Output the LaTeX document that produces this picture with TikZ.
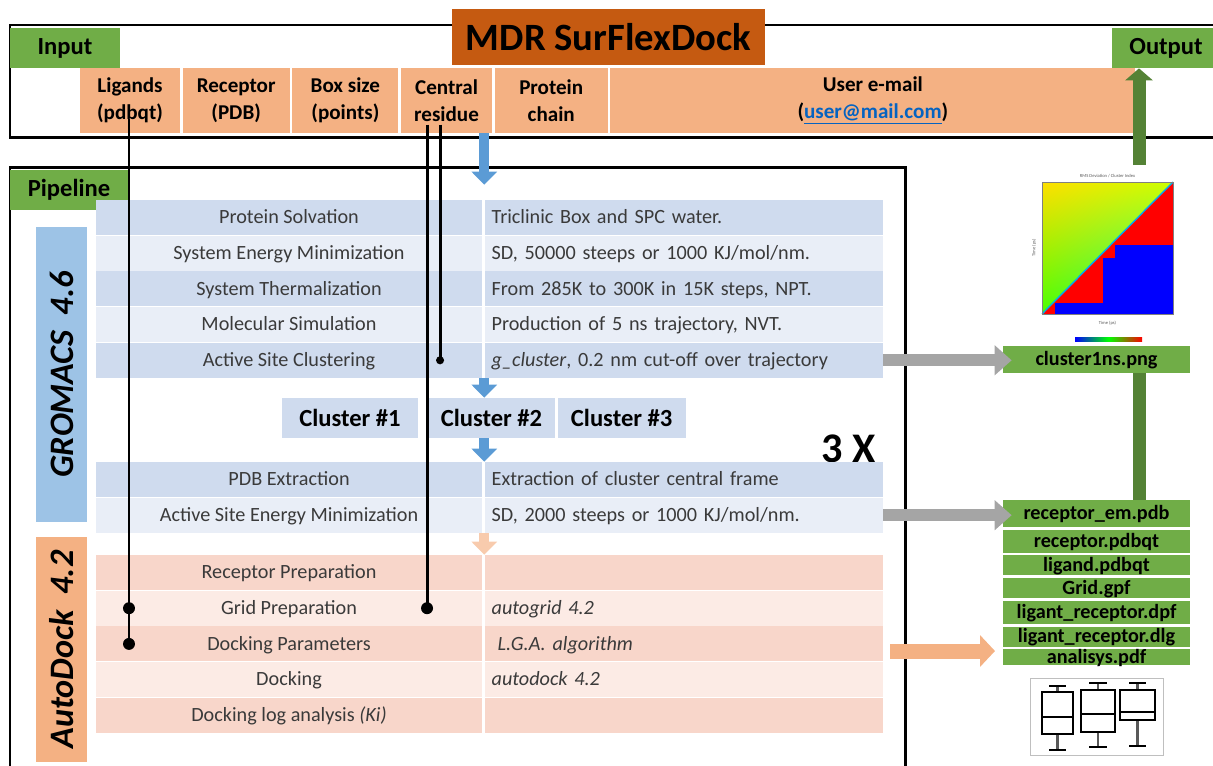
\documentclass[tikz,border=0pt]{standalone}
\usepackage{fontspec}
\setmainfont{Carlito}
\usetikzlibrary{arrows.meta,positioning,shadings}

\definecolor{titlebrown}{HTML}{C55A11}
\definecolor{boxgreen}{HTML}{70AD47}
\definecolor{darkgreen}{HTML}{548235}
\definecolor{peach}{HTML}{F4B183}
\definecolor{gromblue}{HTML}{9DC3E6}
\definecolor{rowblueA}{HTML}{CFDBEE}
\definecolor{rowblueB}{HTML}{E9EEF7}
\definecolor{rowpeachA}{HTML}{F8D6CA}
\definecolor{rowpeachB}{HTML}{FCEBE5}
\definecolor{flowblue}{HTML}{5B9BD5}
\definecolor{flowpeach}{HTML}{F8CBAD}
\definecolor{arrowgray}{HTML}{A5A5A5}
\definecolor{linkblue}{HTML}{0563C1}
\definecolor{rowtext}{HTML}{3A3A3A}

\newcommand{\fs}[1]{\fontsize{#1}{#1}\selectfont}

\tikzset{
  frame/.style={line width=1.7pt},
  tag/.style={fill=boxgreen, inner sep=0pt, minimum height=0.8cm, font=\bfseries\fs{14}},
  titlebox/.style={fill=titlebrown, inner sep=0pt, minimum width=6.26cm, minimum height=1.12cm, font=\bfseries\fs{22}},
  incell/.style={fill=peach, inner sep=0pt, minimum height=1.3cm, align=center, font=\bfseries\fontsize{12}{15.5}\selectfont},
  sidebar/.style={rotate=90, inner sep=0pt, minimum height=1.02cm, font=\bfseries\itshape\fs{19.5}},
  lcell/.style={inner sep=0pt, minimum width=7.72cm, minimum height=0.7cm, text height=8.5pt, text depth=1.5pt, text=rowtext, font=\fs{11.5}},
  rcell/.style={inner ysep=0pt, inner xsep=0.14cm, text width=7.68cm, minimum height=0.7cm, text height=8.5pt, text depth=1.5pt, align=left, text=rowtext, font=\fs{11.5}},
  clbox/.style={fill=rowblueA, inner sep=0pt, minimum height=0.8cm, font=\bfseries\fs{14}},
  filebox/.style={fill=boxgreen, inner sep=0pt, minimum width=3.74cm, text height=8pt, text depth=1pt, font=\bfseries\fs{11.5}},
  wire/.style={line width=1.7pt},
  flow/.style={line width=0.2cm, flowblue, -{Triangle[width=0.5cm, length=0.26cm]}},
  flowp/.style={line width=0.2cm, flowpeach, -{Triangle[width=0.5cm, length=0.26cm]}},
  grayarrow/.style={line width=0.24cm, arrowgray, -{Triangle[width=0.58cm, length=0.34cm]}},
  peacharrow/.style={line width=0.3cm, peach, -{Triangle[width=0.62cm, length=0.3cm]}},
  greenup/.style={line width=0.26cm, darkgreen, -{Triangle[width=0.54cm, length=0.24cm]}},
  greenbar/.style={line width=0.26cm, darkgreen},
  tinytext/.style={inner sep=0pt, font=\fs{2.6}, text=gray!70!black}
}

\begin{document}
\begin{tikzpicture}[x=0.02cm, y=-0.02cm]
\useasboundingbox (0,0) rectangle (1213,765);
\clip (0,0) rectangle (1213,765);

%--- Input frame ---
\draw[frame] (1230,25) -- (10,25) -- (10,137) -- (1230,137);
\node[tag, minimum width=2.2cm] (intag) at (65,48) {Input};
\node[tag, minimum width=2.16cm] (outtag) at (1166,48) {Output};
\node[titlebox] (title) at (608.5,37) {MDR SurFlexDock};

% Input fields
\node[incell, minimum width=2cm] (lig) at (130,100.5) {Ligands\\(pdbqt)};
\node[incell, minimum width=2.14cm, right=0.04cm of lig] (rec) {Receptor\\(PDB)};
\node[incell, minimum width=2.12cm, right=0.04cm of rec] (boxsz) {Box size\\(points)};
\node[incell, minimum width=1.82cm, right=0.04cm of boxsz] (cenres) {Central\\residue};
\node[incell, minimum width=2.26cm, right=0.04cm of cenres] (prot) {Protein\\chain};
\node[incell, minimum width=10.5cm, right=0.04cm of prot] (email) {User e-mail\\(\textcolor{linkblue}{\underline{user@mail.com}})};

%--- Pipeline frame ---
\draw[frame] (10,780) -- (10,167) -- (905,167) -- (905,780);
\node[tag, minimum width=2.36cm] (pipetag) at (69,190) {Pipeline};

% Program bars
\node[sidebar, fill=gromblue, minimum width=5.9cm] (grom) at (61.5,374.5) {GROMACS\hspace{0.45em}4.6};
\node[sidebar, fill=peach, minimum width=4.5cm] (adock) at (61.5,649.5) {AutoDock\hspace{0.45em}4.2};

% GROMACS steps
\node[lcell, fill=rowblueA] (solvL) at (289,217.5) {Protein Solvation};
\node[rcell, fill=rowblueA, right=0.04cm of solvL] (solvR) {Triclinic Box and SPC water.};
\node[lcell, fill=rowblueB, below=0pt of solvL] (emL) {System Energy Minimization};
\node[rcell, fill=rowblueB, right=0.04cm of emL] (emR) {SD, 50000 steeps or 1000 KJ/mol/nm.};
\node[lcell, fill=rowblueA, below=0pt of emL] (thermL) {System Thermalization};
\node[rcell, fill=rowblueA, right=0.04cm of thermL] (thermR) {From 285K to 300K in 15K steps, NPT.};
\node[lcell, fill=rowblueB, below=0pt of thermL] (simL) {Molecular Simulation};
\node[rcell, fill=rowblueB, right=0.04cm of simL] (simR) {Production of 5 ns trajectory, NVT.};
\node[lcell, fill=rowblueA, below=0pt of simL] (actL) {Active Site Clustering};
\node[rcell, fill=rowblueA, right=0.04cm of actL] (actR) {\textit{g\_cluster}, 0.2 nm cut-off over trajectory};

% Clusters
\node[clbox, minimum width=2.72cm] (cl1) at (350,418) {Cluster \#1};
\node[clbox, minimum width=2.54cm] (cl2) at (491.5,418) {Cluster \#2};
\node[clbox, minimum width=2.56cm, right=0.04cm of cl2] (cl3) {Cluster \#3};
\node[inner sep=0pt, font=\bfseries\fs{24}] (times) at (849,449) {3 X};

\node[lcell, fill=rowblueA] (pdbL) at (289,479.5) {PDB Extraction};
\node[rcell, fill=rowblueA, right=0.04cm of pdbL] (pdbR) {Extraction of cluster central frame};
\node[lcell, fill=rowblueB, below=0pt of pdbL] (asemL) {Active Site Energy Minimization};
\node[rcell, fill=rowblueB, right=0.04cm of asemL] (asemR) {SD, 2000 steeps or 1000 KJ/mol/nm.};

% AutoDock steps
\node[lcell, fill=rowpeachA] (recpL) at (289,572.5) {Receptor Preparation};
\node[rcell, fill=rowpeachA, right=0.04cm of recpL] (recpR) {};
\node[lcell, fill=rowpeachB, below=0pt of recpL] (gridL) {Grid Preparation};
\node[rcell, fill=rowpeachB, right=0.04cm of gridL] (gridR) {\textit{autogrid 4.2}};
\node[lcell, fill=rowpeachA, below=0pt of gridL] (parL) {Docking Parameters};
\node[rcell, fill=rowpeachA, right=0.04cm of parL] (parR) {\hspace{0.3em}\textit{L.G.A. algorithm}};
\node[lcell, fill=rowpeachB, below=0pt of parL] (dockL) {Docking};
\node[rcell, fill=rowpeachB, right=0.04cm of dockL] (dockR) {\textit{autodock 4.2}};
\node[lcell, fill=rowpeachA, below=0pt of dockL] (logL) {Docking log analysis \textit{(Ki)}};
\node[rcell, fill=rowpeachA, right=0.04cm of logL] (logR) {};

% Flow arrows
\draw[flow] (solvR.north west |- prot.south) -- ([yshift=0.3cm]solvR.north west);
\draw[flow] (actR.south west) -- (actR.south west |- cl2.north);
\draw[flow] (cl2.south -| pdbR.west) -- (pdbR.north west);
\draw[flowp] (asemR.south west) -- (recpR.north west);

% Input wires
\coordinate (ligtop) at ([shift={(-1,18)}]lig.center);
\coordinate (restopA) at ([shift={(-19.5,24)}]cenres.center);
\coordinate (restopB) at ([shift={(-6.5,24)}]cenres.center);
\draw[wire] (ligtop) -- (ligtop |- parL.center);
\fill (ligtop |- gridL.center) circle (3.4pt);
\fill (ligtop |- parL.center) circle (3.4pt);
\draw[wire] (restopA) -- (restopA |- gridL.center);
\fill (restopA |- gridL.center) circle (3.4pt);
\draw[wire] (restopB) -- (restopB |- actL.center);
\fill (restopB |- actL.center) circle (2.3pt);

%--- Output files ---
\node[filebox, minimum height=0.54cm] (png) at (1096.5,359.5) {cluster1ns.png};
\node[filebox, minimum height=0.54cm] (remem) at (1096.5,513.5) {receptor\_em.pdb};
\node[filebox, minimum height=0.46cm, below=0.04cm of remem] (recq) {receptor.pdbqt};
\node[filebox, minimum height=0.4cm, below=0.04cm of recq] (ligq) {ligand.pdbqt};
\node[filebox, minimum height=0.4cm, below=0.04cm of ligq] (gpf) {Grid.gpf};
\node[filebox, minimum height=0.46cm, below=0.04cm of gpf] (dpf) {ligant\_receptor.dpf};
\node[filebox, minimum height=0.4cm, below=0.04cm of dpf] (dlg) {ligant\_receptor.dlg};
\node[filebox, minimum height=0.32cm, below=0.04cm of dlg] (anal) {analisys.pdf};

% Output arrows
\draw[grayarrow] (actR.east) -- ([xshift=0.18cm]png.west |- actR.east);
\draw[grayarrow] (asemR.east) -- ([xshift=0.18cm]remem.west |- asemR.east);
\coordinate (pkA) at (890,651);
\coordinate (pkB) at (995,651);
\draw[peacharrow] (pkA) -- (pkB);
\coordinate (gtop) at (1139,165);
\draw[greenup] (gtop) -- (gtop |- outtag.south);
\draw[greenbar] (gtop |- png.south) -- (gtop |- remem.north);

% Cluster map
\shade[upper left=yellow!75!orange, upper right=yellow!80!green, lower left=green!70!yellow, lower right=cyan!60!green]
  (1042,182) -- (1173,182) -- (1042,314) -- cycle;
\fill[red] (1173,182) -- (1173,314) -- (1042,314) -- cycle;
\fill[blue] (1173,245) -- (1115,245) -- (1115,258) -- (1103,258) -- (1103,303) -- (1055,303) -- (1055,314) -- (1173,314) -- cycle;
\draw[cyan, line width=0.8pt] (1042,314) -- (1173,182);
\draw[gray, line width=0.3pt] (1042,182) rectangle (1173,314);
\node[tinytext] (maptitle) at (1107.5,176) {RMS Deviation / Cluster Index};
\node[tinytext] (mapx) at (1107.5,323) {Time (ps)};
\node[tinytext, rotate=90] (mapy) at (1034,248) {Time (ps)};
\shade[left color=blue, right color=red, middle color=green] (1075,337) rectangle (1142,341);

% Box plot
\draw[gray!50, line width=0.4pt] (1030,678) rectangle (1163,755);
\draw[gray!70!black, line width=1.2pt] (1057.5,686) -- (1057.5,750) (1098,683) -- (1098,747) (1137.5,683) -- (1137.5,746);
\draw[line width=1.4pt] (1049,686) -- (1066,686) (1049,750) -- (1066,750);
\draw[line width=1.4pt] (1089,683) -- (1107,683) (1089,747) -- (1107,747);
\draw[line width=1.4pt] (1129,683) -- (1146,683) (1129,746) -- (1146,746);
\filldraw[fill=white, line width=1.4pt] (1042,692) rectangle (1073,734);
\filldraw[fill=white, line width=1.4pt] (1081,690) rectangle (1115,732);
\filldraw[fill=white, line width=1.4pt] (1120,690) rectangle (1155,720);
\draw[line width=1.4pt] (1042,717) -- (1073,717) (1081,714) -- (1115,714) (1120,712) -- (1155,712);

\end{tikzpicture}
\end{document}
